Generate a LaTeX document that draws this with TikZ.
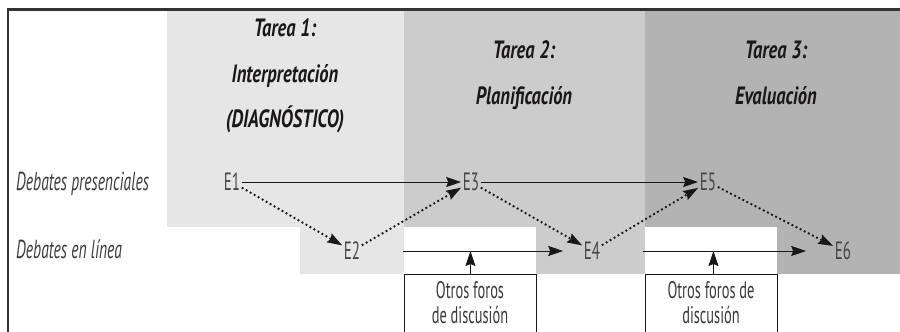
\documentclass[tikz,border=0pt]{standalone}
\usepackage{fontspec}
\setmainfont{PT Sans}
\newfontfamily\labfont[FakeStretch=0.6]{PT Sans}
\newfontfamily\hdrfont[FakeStretch=0.74]{PT Sans}
\usetikzlibrary{arrows.meta}
\definecolor{gA}{HTML}{E6E6E6}
\definecolor{gB}{HTML}{CCCCCC}
\definecolor{gC}{HTML}{B3B3B3}
\definecolor{ink}{HTML}{1A1718}
\definecolor{frame}{HTML}{333333}
\tikzset{
  hdr/.style={font=\hdrfont\bfseries\itshape\fontsize{25}{28}\selectfont, text=ink, inner sep=0pt, anchor=base},
  rowlab/.style={font=\labfont\itshape\fontsize{26}{28}\selectfont, text=ink!85, inner sep=0pt, anchor=base west},
  ev/.style={font=\labfont\fontsize{25}{28}\selectfont, text=ink!80, inner sep=1.5pt},
  box/.style={draw=ink, line width=0.9pt, fill=white, anchor=north west, inner sep=0pt, minimum width=132pt, minimum height=62pt},
  boxtext/.style={font=\labfont\fontsize{24}{25}\selectfont, text=ink!85, align=center, inner sep=0pt, anchor=base},
  arr/.style={draw=ink, line width=1pt, -{Stealth[length=15pt,width=10pt,inset=2pt]}},
  dotarr/.style={draw=ink, line width=1.9pt, dash pattern=on 1.9pt off 2.7pt, -{Stealth[length=15pt,width=10pt,inset=2pt]}}
}
\begin{document}
\begin{tikzpicture}[x=1pt,y=-1pt]
\useasboundingbox (0,0) rectangle (900,332);
% shaded columns
\fill[gA] (167,11) rectangle (404,227);
\fill[gA] (300,227) rectangle (404,274);
\fill[gB] (404,11) rectangle (645,274);
\fill[gC] (645,11) rectangle (900,274);
\fill[white] (404,227) rectangle (536,274);
\fill[white] (645,227) rectangle (777,274);
% frame
\draw[frame, line width=2.6pt] (8,332) -- (8,9.5) -- (900,9.5);
% headers
\node[hdr] (t1a) at (285,36) {Tarea 1:};
\node[hdr] (t1b) at (285,82) {Interpretación};
\node[hdr] (t1c) at (285,127) {(DIAGNÓSTICO)};
\node[hdr] (t2a) at (524,58) {Tarea 2:};
\node[hdr] (t2b) at (524,104) {Planificación};
\node[hdr] (t3a) at (776,58) {Tarea 3:};
\node[hdr] (t3b) at (776,104) {Evaluación};
% row labels
\node[rowlab] (r1) at (16,190) {Debates presenciales};
\node[rowlab] (r2) at (16,258) {Debates en línea};
% events
\node[ev] (E1) at (232,182) {E1};
\node[ev] (E3) at (471,182) {E3};
\node[ev] (E5) at (708,182) {E5};
\node[ev] (E2) at (352,251) {E2};
\node[ev] (E4) at (592,251) {E4};
\node[ev] (E6) at (843,251) {E6};
% boxes
\node[box] (F1) at (404,274) {};
\node[box] (F2) at (645,274) {};
\node[boxtext] (F1a) at (470,298) {Otros foros};
\node[boxtext] (F1b) at (470,323) {de discusión};
\node[boxtext] (F2a) at (711,298) {Otros foros de};
\node[boxtext] (F2b) at (711,323) {discusión};
% solid arrows
\draw[arr] (E1) -- (E3);
\draw[arr] (E3) -- (E5);
\coordinate (h1) at (403,251);
\coordinate (h2) at (643,251);
\draw[arr, shorten >=19pt] (h1) -- (E4.west |- h1);
\draw[arr, shorten >=27pt] (h2) -- (E6.west |- h2);
\draw[arr] (F1.north) -- (F1.north |- h1);
\draw[arr] ([xshift=2pt]F2.north) -- ([xshift=2pt]F2.north |- h2);
% dotted arrows
\draw[dotarr] (E1) -- (E2);
\draw[dotarr] (E2) -- (E3);
\draw[dotarr] (E3) -- (E4);
\draw[dotarr] (E4) -- (E5);
\draw[dotarr] (E5) -- (E6);
\end{tikzpicture}
\end{document}
